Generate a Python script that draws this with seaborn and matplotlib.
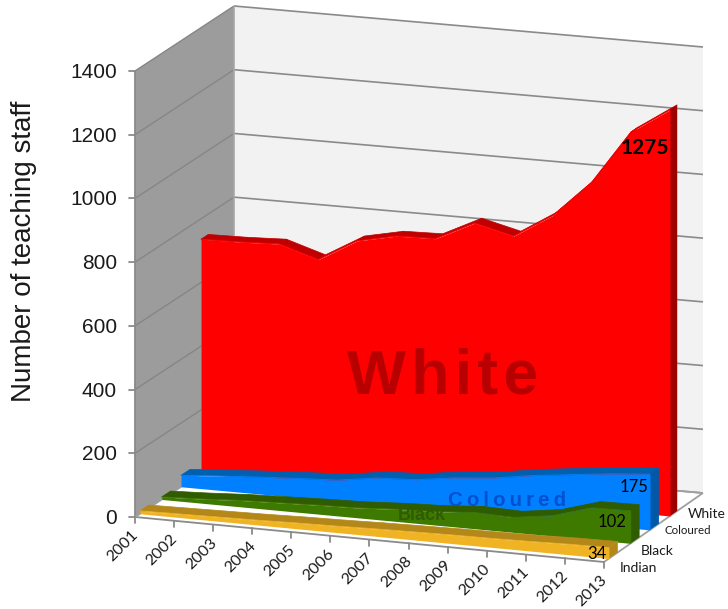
import numpy as np
import pandas as pd
import matplotlib
matplotlib.use("Agg")
import matplotlib.pyplot as plt
import seaborn as sns

years = list(range(2001, 2014))
white = [736, 738, 743, 705, 775, 801, 804, 864, 834, 910, 1026, 1194, 1275]
coloured = [36, 45, 53, 60, 66, 84, 90, 107, 118, 137, 151, 165, 175]
black = [8, 13, 20, 24, 28, 31, 38, 42, 51, 47, 64, 100, 102]
indian = [9, 11, 13, 15, 18, 20, 23, 25, 27, 28, 30, 33, 34]
y_ticks = [0, 200, 400, 600, 800, 1000, 1200, 1400]

PX_V = 446 / 1400


def project(i, v, d):
    """Oblique projection: category index, value, depth (0-1) to picture pixels."""
    i, v, d = np.asarray(i, float), np.asarray(v, float), np.asarray(d, float)
    x = 135 + 39.08 * i + 99 * d
    y = 517 + (45 - 4 * d) / 12 * i - PX_V * v - 65 * d
    return x, y


sns.set_theme(style="white")
plt.rcParams["font.family"] = ["Liberation Sans", "DejaVu Sans"]
fig = plt.figure(figsize=(7.28, 6.09), dpi=100)
ax = fig.add_axes([0, 0, 1, 1])
ax.set_xlim(0, 728)
ax.set_ylim(609, 0)
ax.axis("off")

GRID = "#8a8a8a"


def poly(pts, color, z, seam=False):
    xs, ys = zip(*[project(*p) for p in pts])
    ax.fill(xs, ys, fc=color, ec=color if seam else "none", lw=0.5 if seam else 0, zorder=z)


def seg(a, b, color=GRID, lw=1.3, z=2):
    xa, ya = project(*a)
    xb, yb = project(*b)
    ax.plot([xa, xb], [ya, yb], color=color, lw=lw, zorder=z, solid_capstyle="butt")


# walls and floor
poly([(0, 0, 1), (12, 0, 1), (12, 1400, 1), (0, 1400, 1)], "#f2f2f2", 1)
poly([(0, 0, 0), (0, 0, 1), (0, 1400, 1), (0, 1400, 0)], "#9c9c9c", 1)
for v in y_ticks:
    seg((0, v, 0), (0, v, 1), color="#868686", lw=1.0)
    seg((0, v, 1), (12, v, 1), lw=1.2)
    x0, y0 = project(0, v, 0)
    ax.plot([x0 - 6, x0], [y0, y0], color=GRID, lw=1.3, zorder=2)
    ax.text(x0 - 18, y0 + 1.5, str(v), ha="right", va="center", fontsize=15, color="#1a1a1a", zorder=6)
seg((0, 0, 0), (0, 1400, 0), lw=1.3)
seg((0, 0, 1), (0, 1400, 1), color="#a8a8a8", lw=1.2)
seg((0, 0, 0), (12, 0, 0))
seg((12, 0, 0), (12, 0, 1), color="#a0a0a0")
seg((0, 0, 1), (12, 0, 1), color="#a0a0a0")
seg((0, 0, 0), (0, 0, 1), color="#a0a0a0")

for i, yr in enumerate(years):
    x0, y0 = project(i, 0, 0)
    ax.plot([x0, x0], [y0, y0 + 6], color=GRID, lw=1.3, zorder=2)
    ax.text(x0 - 12, y0 + 29, str(yr), rotation=45, ha="center", va="center",
            rotation_mode="anchor", family="Lato", fontsize=11.5, color="#1a1a1a", zorder=6)

# series, back to front
series = [
    ("White", white, 0.667, 0.74, "#ff0000", "#c00000", "#9c0000"),
    ("Coloured", coloured, 0.465, 0.555, "#0080ff", "#0060b0", "#0058a8"),
    ("Black", black, 0.27, 0.36, "#3f7a00", "#2f5c00", "#2f5c00"),
    ("Indian", indian, 0.05, 0.14, "#f0b323", "#b48818", "#b48818"),
]
for k, (name, vals, d0, d1, front, top, side) in enumerate(series):
    z = 3 + k * 0.1
    idx = np.arange(len(vals))
    for i in idx[:-1]:
        poly([(i, vals[i], d0), (i + 1, vals[i + 1], d0),
              (i + 1, vals[i + 1], d1), (i, vals[i], d1)], top, z, seam=True)
    poly([(12, vals[-1], d0), (12, vals[-1], d1), (12, 0, d1), (12, 0, d0)], side, z)
    xt, yt = project(idx, np.array(vals), d0)
    xb, yb = project(idx, np.zeros(len(vals)), d0)
    ax.fill_between(xt, yt, np.interp(xt, xb, yb), color=front, lw=0, zorder=z + 0.02)
    edge = pd.DataFrame({"x": xt, "y": yt})
    sns.lineplot(data=edge, x="x", y="y", sort=False, estimator=None, color=front,
                 lw=0.6, ax=ax, zorder=z + 0.03, legend=False)
ax.set_xlim(0, 728)
ax.set_ylim(609, 0)

# in-chart labels
SP = "\u200a"
ax.text(443, 377, SP.join("White"), ha="center", va="center", fontsize=45, weight="bold",
        color="#b80000", zorder=5)
ax.text(507, 500, "\u2009".join("Coloured"), ha="center", va="center", fontsize=14.7, weight="bold",
        color="#0050d0", zorder=5)
ax.text(422, 516, "Black", ha="center", va="center", fontsize=13, weight="bold",
        color="#2f5c00", zorder=5)
for txt, x, y, fs, wt in [("1275", 645, 148, 15, "bold"), ("175", 634.5, 487, 12, "normal"),
                          ("102", 612, 522, 12, "normal"), ("34", 597, 554, 12, "normal")]:
    ax.text(x, y, txt, ha="center", va="center", fontsize=fs, weight=wt, family="Lato",
            color="black", zorder=6)
for txt, x, y, fs in [("White", 707, 514, 10), ("Coloured", 688, 531, 8.3),
                      ("Black", 657, 551, 10), ("Indian", 638, 568, 10)]:
    ax.text(x, y, txt, ha="center", va="center", fontsize=fs, family="Lato",
            color="#1a1a1a", zorder=6)

ax.text(24, 251, "Number of teaching staff", rotation=90, ha="center", va="center",
        fontsize=20, color="#1a1a1a", zorder=6)

fig.savefig("out.png", dpi=100)
